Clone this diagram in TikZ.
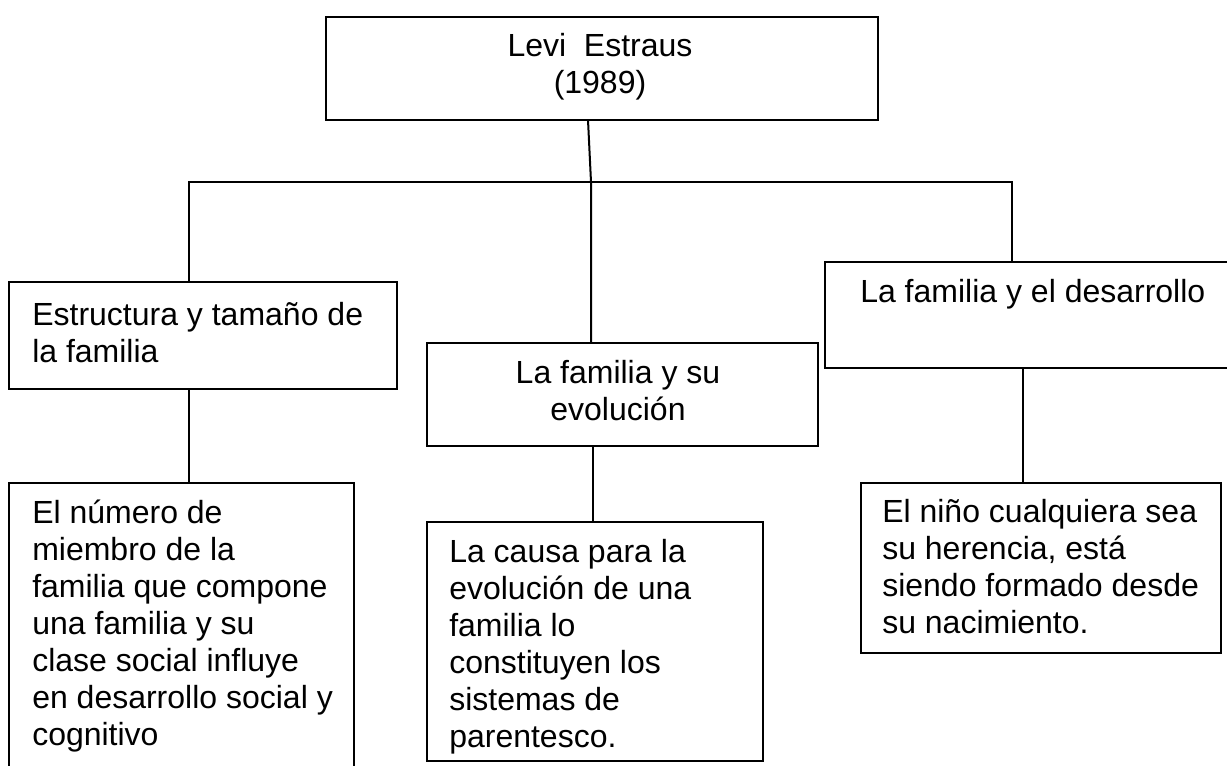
\documentclass[tikz,border=0pt]{standalone}
\usepackage{fontspec}
\setmainfont{Liberation Sans}
\begin{document}
\begin{tikzpicture}[x=0.75pt,y=-0.75pt]
\tikzset{
  box/.style={draw, line width=1.5pt, rectangle, inner sep=0pt},
  conn/.style={line width=1.5pt},
  txt/.style={inner sep=0pt, font=\fontsize{24}{27.75}\selectfont}
}
\useasboundingbox (0,0) rectangle (1227,765);
% boxes
\node[box, minimum width=414pt, minimum height=77.25pt] (top) at (602,68.5) {};
\node[box, minimum width=291pt, minimum height=80.25pt] (b1) at (203,335.5) {};
\node[box, minimum width=293.25pt, minimum height=77.25pt] (b2) at (622.5,394.5) {};
\node[box, minimum width=305.25pt, minimum height=79.5pt] (b3) at (1028.5,315) {};
\node[box, minimum width=258.75pt, minimum height=216.75pt] (b4) at (181.5,627.5) {};
\node[box, minimum width=252pt, minimum height=179.25pt] (b5) at (595,641.5) {};
\node[box, minimum width=270pt, minimum height=127.5pt] (b6) at (1041,568) {};
% texts
\node[txt, anchor=base] (t0) at (600,56) {\begin{tabular}[t]{@{}c@{}}Levi\ \ Estraus\\(1989)\end{tabular}};
\node[txt, anchor=base west] (t1) at (32,325) {\begin{tabular}[t]{@{}l@{}}Estructura y tamaño de\\la familia\end{tabular}};
\node[txt, anchor=base] (t2) at (618,383) {\begin{tabular}[t]{@{}c@{}}La familia y su\\evolución\end{tabular}};
\node[txt, anchor=base west] (t3) at (860,302) {La familia y el desarrollo};
\node[txt, anchor=base west] (t4) at (32,523) {\begin{tabular}[t]{@{}l@{}}El número de\\miembro de la\\familia que compone\\una familia y su\\clase social influye\\en desarrollo social y\\cognitivo\end{tabular}};
\node[txt, anchor=base west] (t5) at (449,562) {\begin{tabular}[t]{@{}l@{}}La causa para la\\evolución de una\\familia lo\\constituyen los\\sistemas de\\parentesco.\end{tabular}};
\node[txt, anchor=base west] (t6) at (882,522) {\begin{tabular}[t]{@{}l@{}}El niño cualquiera sea\\su herencia, está\\siendo formado desde\\su nacimiento.\end{tabular}};
% junctions
\coordinate (ts) at (588,120);
\coordinate (jm) at (591,182);
\coordinate (jl) at (189,182);
\coordinate (jr) at (1012,182);
\coordinate (m2) at (593,0);
\coordinate (r2) at (1023,0);
% connectors
\draw[conn] (ts) -- (jm) -- (b2.north -| jm);
\draw[conn] (b1.north -| jl) -- (jl) -- (jr) -- (b3.north -| jr);
\draw[conn] (b1.south -| jl) -- (b4.north -| jl);
\draw[conn] (b2.south -| m2) -- (b5.north -| m2);
\draw[conn] (b3.south -| r2) -- (b6.north -| r2);
\end{tikzpicture}
\end{document}
